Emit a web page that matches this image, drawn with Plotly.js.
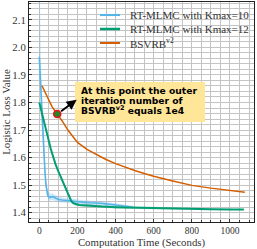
<!DOCTYPE html>
<html>
<head>
<meta charset="utf-8">
<script src="https://cdn.plot.ly/plotly-3.0.1.min.js"></script>
<style>html,body{margin:0;padding:0;background:#fff;}#chart{width:257px;height:249px;}</style>
</head>
<body>
<div id="chart"></div>
<script>
// RT-MLMC with Kmax=10
var blueX = [0, 5, 10, 15, 20, 25, 30, 35, 40, 45, 50, 55, 60, 70, 80, 90, 100, 120, 140, 160, 180, 200, 230, 260, 290, 320, 350, 380, 410, 440, 470, 490];
var blueY = [1.966, 1.89, 1.81, 1.73, 1.66, 1.60, 1.545, 1.50, 1.475, 1.462, 1.457, 1.455, 1.457, 1.458, 1.455, 1.452, 1.448, 1.446, 1.445, 1.444, 1.442, 1.440, 1.438, 1.436, 1.436, 1.434, 1.432, 1.430, 1.427, 1.424, 1.421, 1.420];
var blueUp = [2.30, 2.05, 1.90, 1.79, 1.70, 1.63, 1.57, 1.52, 1.49, 1.478, 1.472, 1.474, 1.468, 1.470, 1.466, 1.462, 1.458, 1.455, 1.452, 1.452, 1.450, 1.447, 1.445, 1.444, 1.443, 1.441, 1.439, 1.436, 1.433, 1.430, 1.427, 1.425];
var blueLo = [1.90, 1.80, 1.75, 1.68, 1.62, 1.57, 1.52, 1.48, 1.46, 1.448, 1.443, 1.440, 1.446, 1.445, 1.444, 1.441, 1.438, 1.437, 1.437, 1.436, 1.434, 1.433, 1.431, 1.428, 1.429, 1.427, 1.425, 1.424, 1.421, 1.418, 1.415, 1.415];

// RT-MLMC with Kmax=12
var greenX = [0, 10, 20, 30, 40, 50, 60, 70, 84, 100, 119, 135, 153, 165, 175, 190, 210, 240, 280, 330, 400, 500, 600, 700, 800, 900, 1000, 1073];
var greenY = [1.80, 1.77, 1.74, 1.71, 1.685, 1.66, 1.632, 1.607, 1.578, 1.55, 1.519, 1.49, 1.462, 1.446, 1.436, 1.431, 1.428, 1.426, 1.424, 1.422, 1.420, 1.418, 1.416, 1.414, 1.413, 1.412, 1.411, 1.411];
var greenUp = [1.805, 1.775, 1.745, 1.715, 1.69, 1.665, 1.637, 1.612, 1.583, 1.555, 1.524, 1.495, 1.467, 1.452, 1.442, 1.437, 1.433, 1.432, 1.429, 1.427, 1.425, 1.423, 1.420, 1.418, 1.417, 1.416, 1.414, 1.413];
var greenLo = [1.795, 1.765, 1.735, 1.705, 1.68, 1.655, 1.627, 1.602, 1.573, 1.545, 1.514, 1.485, 1.457, 1.440, 1.430, 1.425, 1.423, 1.420, 1.419, 1.417, 1.415, 1.413, 1.412, 1.410, 1.409, 1.408, 1.408, 1.409];

// BSVRB^v2
var orangeX = [14, 20, 30, 45, 66, 80, 96, 120, 150, 180, 200, 250, 300, 350, 400, 450, 500, 550, 600, 700, 800, 900, 1000, 1078];
var orangeY = [1.861, 1.852, 1.835, 1.812, 1.786, 1.772, 1.757, 1.733, 1.700, 1.672, 1.655, 1.630, 1.610, 1.593, 1.578, 1.565, 1.553, 1.542, 1.532, 1.515, 1.499, 1.489, 1.481, 1.474];

// highlighted point (outer iteration number 1e4)
var dotX = [94];
var dotY = [1.758];

var seriesNames = ['RT-MLMC with Kmax=10', 'RT-MLMC with Kmax=12', 'BSVRB<sup>v2</sup>'];
var xTicks = [0, 200, 400, 600, 800, 1000];
var yTicks = [1.4, 1.5, 1.6, 1.7, 1.8, 1.9, 2.0, 2.1];
var noteLines = ['At this point the outer', 'iteration number of', 'BSVRB<sup>v2</sup> equals 1e4'];

var BLUE = '#56B4E9', GREEN = '#029E73', ORANGE = '#D55E00';
var colors = [BLUE, GREEN, ORANGE];
var widths = [1.6, 2, 1.5];
var SERIF = 'Liberation Serif, Times New Roman, serif';

var traces = [
  {x: blueX, y: blueLo, mode: 'lines', line: {width: 0, color: BLUE}, showlegend: false, hoverinfo: 'skip'},
  {x: blueX, y: blueUp, mode: 'lines', line: {width: 0, color: BLUE}, fill: 'tonexty', fillcolor: 'rgba(86,180,233,0.3)', showlegend: false, hoverinfo: 'skip'},
  {x: greenX, y: greenLo, mode: 'lines', line: {width: 0, color: GREEN}, showlegend: false, hoverinfo: 'skip'},
  {x: greenX, y: greenUp, mode: 'lines', line: {width: 0, color: GREEN}, fill: 'tonexty', fillcolor: 'rgba(2,158,115,0.2)', showlegend: false, hoverinfo: 'skip'},
  {x: blueX, y: blueY, mode: 'lines', name: seriesNames[0], showlegend: false, line: {color: BLUE, width: widths[0]}},
  {x: greenX, y: greenY, mode: 'lines', name: seriesNames[1], showlegend: false, line: {color: GREEN, width: widths[1]}},
  {x: orangeX, y: orangeY, mode: 'lines', name: seriesNames[2], showlegend: false, line: {color: ORANGE, width: widths[2]}},
  {x: dotX, y: dotY, mode: 'markers', showlegend: false, marker: {color: '#1a8a2a', size: 7, line: {color: '#e8141c', width: 1.6}}}
];

// legend drawn as layout shapes + annotations (tight matplotlib-like spacing)
var legendRowsPx = [15, 29, 43];
var shapes = [
  {type: 'rect', xref: 'paper', yref: 'paper', x0: 0.2044, x1: 0.782, y0: 0.4545, y1: 0.636,
   fillcolor: '#FFE699', line: {width: 0}, layer: 'above'}
];
var annotations = [];
for (var i = 0; i < 3; i++) {
  var py = (222 - legendRowsPx[i]) / 220;
  shapes.push({type: 'line', xref: 'paper', yref: 'paper', x0: 0.3156, x1: 0.4044, y0: py, y1: py,
               line: {color: colors[i], width: widths[i] + 0.5}, layer: 'above'});
  annotations.push({xref: 'paper', yref: 'paper', x: 0.44, y: py, xanchor: 'left', yanchor: 'middle',
                    showarrow: false, text: seriesNames[i], font: {family: SERIF, size: 11, color: '#333'}});
}
var noteY = [0.599, 0.5545, 0.508];
for (var j = 0; j < 3; j++) {
  annotations.push({xref: 'paper', yref: 'paper', x: 0.222, y: noteY[j], xanchor: 'left', yanchor: 'middle', showarrow: false,
    text: noteLines[j], font: {family: 'DejaVu Sans', size: 9.2, color: '#000', weight: 'bold'}});
}
annotations.push({xref: 'x', yref: 'y', axref: 'x', ayref: 'y', x: 196, y: 1.81, ax: dotX[0], ay: dotY[0],
  text: '', showarrow: true, arrowhead: 2, arrowsize: 1, arrowwidth: 2, arrowcolor: '#000', standoff: 0, startstandoff: 3});

var layout = {
  width: 257, height: 249,
  margin: {l: 29, r: 3, t: 2, b: 27},
  paper_bgcolor: '#fff', plot_bgcolor: '#fff',
  font: {family: SERIF, color: '#333'},
  showlegend: false,
  xaxis: {
    range: [-54, 1126], tickvals: xTicks, ticks: 'inside', ticklen: 3, tickcolor: '#333',
    showline: true, mirror: true, linecolor: '#222', linewidth: 1, zeroline: false,
    showgrid: true, gridcolor: '#c4c4c4', gridwidth: 1,
    minor: {dtick: 50, tick0: 0, showgrid: true, gridcolor: '#c4c4c4', ticks: 'inside', ticklen: 2, tickcolor: '#333'},
    tickfont: {family: SERIF, size: 9.5, color: '#333'},
    title: {text: 'Computation Time (Seconds)', font: {family: SERIF, size: 10.8, color: '#333'}, standoff: 2}
  },
  yaxis: {
    range: [1.366, 2.165], tickvals: yTicks, tickformat: '.1f', ticks: 'inside', ticklen: 3, tickcolor: '#333',
    showline: true, mirror: true, linecolor: '#222', linewidth: 1, zeroline: false,
    showgrid: true, gridcolor: '#c4c4c4', gridwidth: 1,
    minor: {dtick: 0.02, tick0: 1.4, showgrid: true, gridcolor: '#c4c4c4', ticks: 'inside', ticklen: 2, tickcolor: '#333'},
    tickfont: {family: SERIF, size: 10.8, color: '#333'},
    title: {text: 'Logistic Loss Value', font: {family: SERIF, size: 10.8, color: '#333'}, standoff: 2}
  },
  shapes: shapes,
  annotations: annotations
};

Plotly.newPlot('chart', traces, layout, {staticPlot: true, displayModeBar: false});
</script>
</body>
</html>
